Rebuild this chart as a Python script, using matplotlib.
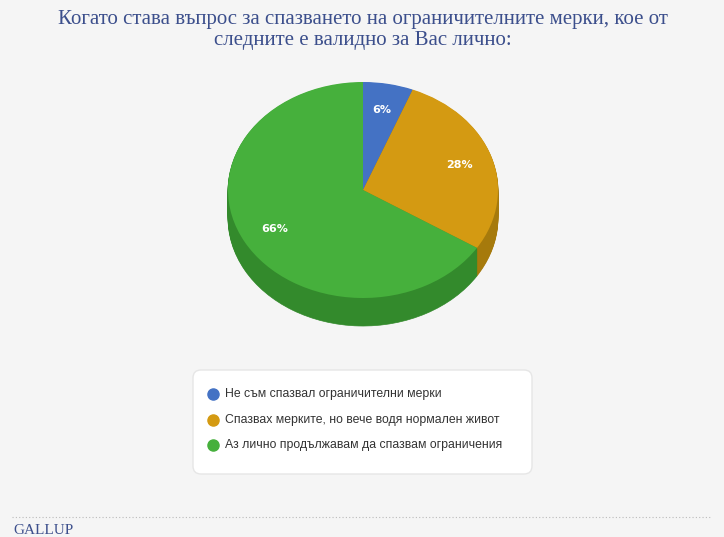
import matplotlib
matplotlib.use("Agg")
import matplotlib.pyplot as plt
from matplotlib.patches import Wedge, FancyBboxPatch
from matplotlib.transforms import Affine2D
import numpy as np

labels = ["Не съм спазвал ограничителни мерки",
          "Спазвах мерките, но вече водя нормален живот",
          "Аз лично продължавам да спазвам ограничения"]
values = [6, 28, 66]
colors = ["#4472c4", "#d49a12", "#46b03c"]
side_colors = ["#2f549a", "#a67a0c", "#338a2c"]
title = "Когато става въпрос за спазването на ограничителните мерки, кое от\nследните е валидно за Вас лично:"

fig = plt.figure(figsize=(7.24, 5.37), dpi=100, facecolor="#f5f5f5")
ax = fig.add_axes([0, 0, 1, 1])
ax.set_xlim(0, 724); ax.set_ylim(537, 0); ax.axis("off")
ax.set_facecolor("#f5f5f5")

cx, cy, rx, ry, depth = 363, 190, 135, 108, 28
fr = np.array(values) / sum(values)
starts = 90 - 360 * np.concatenate([[0], np.cumsum(fr)[:-1]])
ends = starts - 360 * fr

for d in range(depth, 0, -1):
    tr = Affine2D().scale(rx, -ry).translate(cx, cy + d) + ax.transData
    for s, e, c in zip(starts, ends, side_colors):
        ax.add_patch(Wedge((0, 0), 1, e, s, facecolor=c, edgecolor=c, lw=0.5, transform=tr))
tr = Affine2D().scale(rx, -ry).translate(cx, cy) + ax.transData
for s, e, c, v in zip(starts, ends, colors, values):
    ax.add_patch(Wedge((0, 0), 1, e, s, facecolor=c, edgecolor="none", transform=tr))
    m = np.deg2rad((s + e) / 2)
    ax.text(cx + 0.75 * rx * np.cos(m), cy - 0.75 * ry * np.sin(m), f"{v}%",
            color="white", fontsize=8, ha="center", va="center", fontweight="bold")

ax.text(363, 30, title, ha="center", va="center", fontsize=15, family="Liberation Serif",
        color="#3c4f8c", linespacing=1.1)

ax.add_patch(FancyBboxPatch((193, 370), 339, 104, boxstyle="round,pad=0,rounding_size=8",
                            facecolor="white", edgecolor="#e6e6e6", lw=1))
for i, (l, c) in enumerate(zip(labels, colors)):
    y = 394 + i * 25.5
    ax.plot(213, y, "o", ms=8, color=c)
    ax.text(225, y, l, fontsize=8.8, family="Liberation Sans", va="center", color="#333333")

ax.plot([12, 712], [517, 517], color="#bbbbbb", lw=0.8, ls=(0, (1, 2)))
ax.text(13, 531, "GALLUP", fontsize=11, family="Liberation Serif", color="#3c4f8c", va="center")
fig.savefig("out.png", dpi=100, facecolor=fig.get_facecolor())
